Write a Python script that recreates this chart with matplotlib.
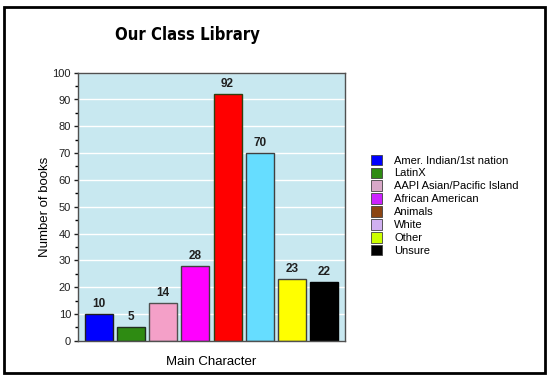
import matplotlib.pyplot as plt
from matplotlib.patches import Patch, Rectangle

# data
categories = ["Amer. Indian/1st nation", "LatinX", "AAPI Asian/Pacific Island",
              "African American", "Animals", "White", "Other", "Unsure"]
books = [10, 5, 14, 28, 92, 70, 23, 22]
bar_colors = ["#0000ff", "#2e8b12", "#f4a0c8", "#ff00ff",
              "#ff0000", "#66ddff", "#ffff00", "#000000"]
bar_edges = ["#202020", "#203020", "#505050", "#404040",
             "#304010", "#404040", "#404040", "#000000"]
legend_colors = ["#0000ff", "#2e8b12", "#d8a8c8", "#cc22ff",
                 "#8b4513", "#d0b0f0", "#ccff00", "#000000"]
y_ticks = list(range(0, 101, 10))

plt.rcParams["font.family"] = ["Liberation Sans", "DejaVu Sans"]

fig = plt.figure(figsize=(5.5, 3.78), dpi=100)
ax = fig.add_axes([78 / 550, 1 - 340.7 / 378, 267 / 550, 268 / 378])
ax.set_facecolor("#c8e8f0")

x = list(range(len(books)))
ax.bar(x, books, width=0.87, color=bar_colors, edgecolor=bar_edges,
       linewidth=1, zorder=3)
for xi, v in zip(x, books):
    ax.text(xi, v + 1.5, str(v), ha="center", va="bottom",
            fontsize=8.5, fontweight="bold", color="#202020", zorder=4)

ax.set_xlim(-0.64, 7.64)
ax.set_ylim(0, 100)
ax.set_xticks([])
ax.set_yticks(y_ticks)
ax.set_yticks(range(5, 100, 10), minor=True)
ax.tick_params(axis="y", labelsize=8, length=3, width=1, pad=2,
               colors="#202020")
ax.tick_params(axis="y", which="minor", length=2, width=1)
ax.grid(axis="y", color="white", linewidth=1, zorder=1)
for s in ax.spines.values():
    s.set_color("#505050")
    s.set_linewidth(1)
    s.set_zorder(5)

ax.set_ylabel("Number of books", fontsize=9.5, labelpad=1)
ax.set_xlabel("Main Character", fontsize=9.5, labelpad=11)

fig.text(187.5 / 550, 1 - 34.5 / 378, "Our Class Library", ha="center",
         va="center", fontsize=12, fontweight="bold",
         fontfamily="DejaVu Sans", fontstretch="condensed")

handles = [Patch(facecolor=c, edgecolor="#404040", linewidth=0.6)
           for c in legend_colors]
fig.legend(handles, categories, loc="upper left",
           bbox_to_anchor=(365 / 550, 1 - 149 / 378), frameon=False,
           fontsize=8, handlelength=1.05, handleheight=1.05,
           handletextpad=1.1, labelspacing=0.18, borderpad=0)

# black frame around the whole picture
fig.patches.append(Rectangle((4 / 550, 5.5 / 378), 541 / 550, 366 / 378,
                             transform=fig.transFigure, fill=False,
                             edgecolor="black", linewidth=2))

fig.savefig("out.png", dpi=100)
